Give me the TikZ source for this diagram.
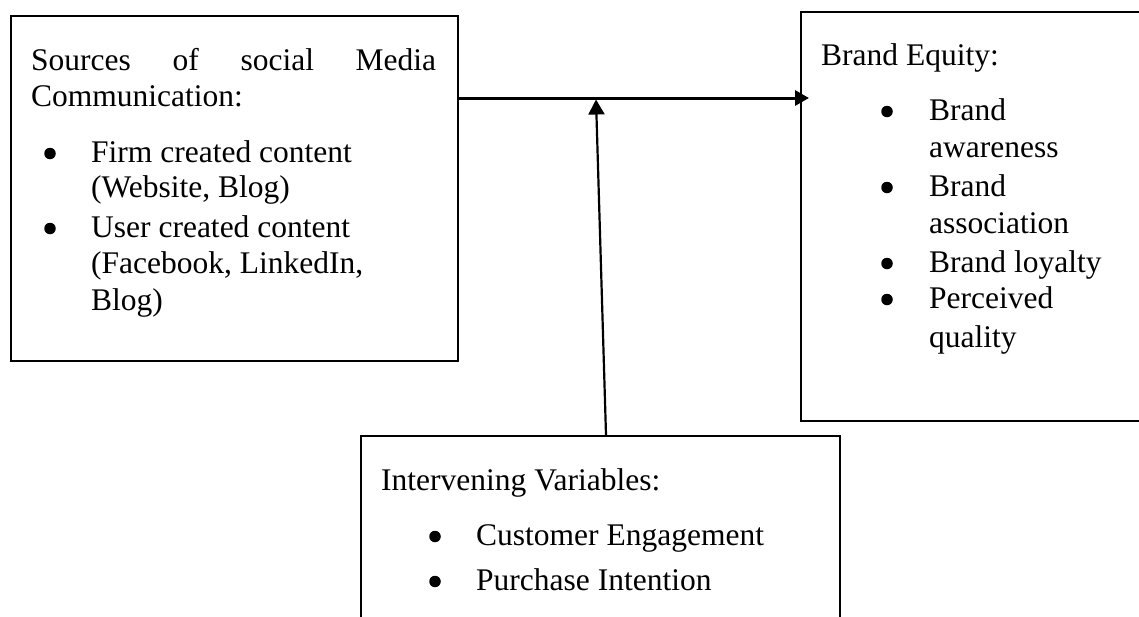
\documentclass[tikz,border=0pt]{standalone}
\usepackage{fontspec}
\setmainfont{Liberation Serif}
\usetikzlibrary{arrows.meta,calc}
\begin{document}
\begin{tikzpicture}[x=1pt,y=-1pt,
  frame/.style={draw=black,line width=2pt,inner sep=0pt,anchor=north west},
  txt/.style={anchor=base west,inner sep=0pt,font=\fontsize{31.5}{36}\selectfont},
  dot/.style={circle,fill=black,inner sep=0pt,minimum size=11.5pt,yshift=8.5pt},
  mainlink/.style={draw=black,line width=3pt,-{Triangle[length=14pt,width=15pt]}},
  sidelink/.style={draw=black,line width=2.2pt,-{Triangle[length=15pt,width=16pt]}}]
\useasboundingbox (0,0) rectangle (1139,616);
\clip (0,0) rectangle (1139,616);

% the three boxes
\node[frame,minimum width=447pt,minimum height=345pt] (src) at (10,14.5) {};
\node[frame,minimum width=350pt,minimum height=409pt] (eq) at (800,11) {};
\node[frame,minimum width=479pt,minimum height=210pt] (iv) at (360,435) {};

% sources of social media communication
\node[txt] (s1) at (31,70) {\hbox to 405pt{Sources\hfill of\hfill social\hfill Media}};
\node[txt] (s2) at (31,106) {Communication:};
\node[dot] (sb1) at (50,162) {};
\node[txt] (s3) at (91,162) {Firm created content};
\node[txt] (s4) at (91,197) {(Website, Blog)};
\node[dot] (sb2) at (50,237) {};
\node[txt] (s5) at (91,237) {User created content};
\node[txt] (s6) at (91,273) {(Facebook, LinkedIn,};
\node[txt] (s7) at (91,310) {Blog)};

% brand equity
\node[txt] (e1) at (821,65) {Brand Equity:};
\node[dot] (eb1) at (887,120) {};
\node[txt] (e2) at (929,120) {Brand};
\node[txt] (e3) at (929,157) {awareness};
\node[dot] (eb2) at (887,196) {};
\node[txt] (e4) at (929,196) {Brand};
\node[txt] (e5) at (929,233) {association};
\node[dot] (eb3) at (887,272) {};
\node[txt] (e6) at (929,272) {Brand loyalty};
\node[dot] (eb4) at (887,308) {};
\node[txt] (e7) at (929,308) {Perceived};
\node[txt] (e8) at (929,347) {quality};

% intervening variables
\node[txt] (i1) at (381,490) {Intervening Variables:};
\node[dot] (ib1) at (435,545) {};
\node[txt] (i2) at (476,545) {Customer Engagement};
\node[dot] (ib2) at (435,590) {};
\node[txt] (i3) at (476,590) {Purchase Intention};

% connectors
\coordinate (hline) at (596,98);
\coordinate (vtip) at (596,99.5);
\coordinate (hit) at ($(eq.west |- hline)+(9,0)$);
\draw[mainlink] (src.east |- hline) -- (hit);
\draw[sidelink] ([xshift=5.5pt]iv.north) -- (vtip);
\end{tikzpicture}
\end{document}
